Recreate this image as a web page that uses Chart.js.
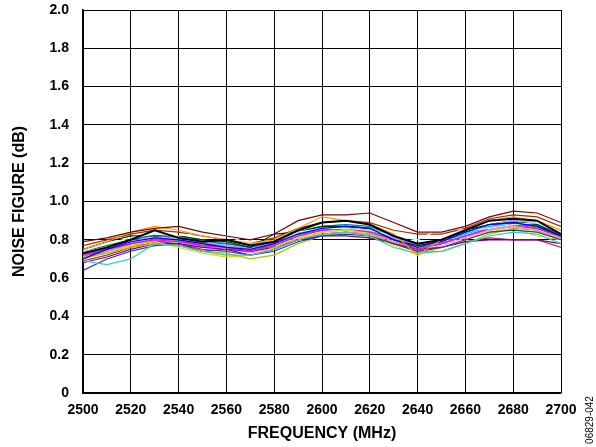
<!DOCTYPE html>
<html>
<head>
<meta charset="utf-8">
<script src="https://cdn.jsdelivr.net/npm/chart.js@4.4.1/dist/chart.umd.min.js"></script>
<style>
  html, body { margin: 0; padding: 0; background: #fff; }
  #wrap { width: 596px; height: 447px; position: relative; }
</style>
</head>
<body>
<div id="wrap"><canvas id="nfChart" width="596" height="447"></canvas></div>
<script>
// frequency points, MHz
const freqMHz = [2500, 2510, 2520, 2530, 2540, 2550, 2560, 2570, 2580, 2590, 2600,
                 2610, 2620, 2630, 2640, 2650, 2660, 2670, 2680, 2690, 2700];

// noise figure curves (dB)
const nfBlack    = [0.73,0.76,0.80,0.85,0.81,0.79,0.80,0.77,0.79,0.85,0.89,0.90,0.88,0.82,0.78,0.80,0.85,0.90,0.91,0.90,0.83];
const nfDarkRed  = [0.79,0.81,0.84,0.86,0.87,0.84,0.82,0.80,0.83,0.90,0.93,0.93,0.94,0.89,0.84,0.84,0.87,0.92,0.95,0.94,0.89];
const nfOrange   = [0.75,0.79,0.84,0.87,0.85,0.82,0.80,0.78,0.80,0.86,0.92,0.90,0.88,0.83,0.72,0.80,0.85,0.90,0.92,0.90,0.85];
const nfBlue     = [0.70,0.75,0.79,0.81,0.80,0.78,0.76,0.75,0.78,0.83,0.86,0.87,0.86,0.80,0.77,0.79,0.84,0.88,0.89,0.87,0.82];
const nfCyan     = [0.69,0.67,0.70,0.78,0.77,0.74,0.72,0.72,0.75,0.80,0.83,0.84,0.82,0.76,0.73,0.74,0.78,0.82,0.84,0.83,0.78];
const nfPaleCyan = [0.74,0.78,0.81,0.83,0.82,0.84,0.82,0.78,0.79,0.84,0.86,0.86,0.85,0.82,0.80,0.86,0.85,0.86,0.88,0.89,0.84];
const nfNavy     = [0.64,0.70,0.74,0.77,0.78,0.74,0.75,0.72,0.74,0.79,0.82,0.83,0.82,0.78,0.74,0.76,0.80,0.84,0.85,0.84,0.80];
const nfDkGreen  = [0.75,0.79,0.82,0.82,0.82,0.80,0.79,0.76,0.83,0.84,0.87,0.87,0.86,0.80,0.76,0.80,0.85,0.88,0.89,0.88,0.82];
const nfLime     = [0.71,0.73,0.76,0.78,0.77,0.74,0.73,0.70,0.72,0.78,0.82,0.84,0.83,0.78,0.74,0.74,0.78,0.83,0.86,0.85,0.80];
const nfYellow   = [0.70,0.73,0.77,0.79,0.76,0.73,0.71,0.72,0.76,0.81,0.84,0.85,0.83,0.77,0.72,0.76,0.80,0.84,0.86,0.82,0.80];
const nfMagenta  = [0.72,0.75,0.78,0.80,0.79,0.77,0.76,0.74,0.77,0.82,0.85,0.86,0.84,0.80,0.75,0.78,0.82,0.86,0.88,0.86,0.82];
const nfPurple   = [0.68,0.71,0.75,0.78,0.78,0.76,0.75,0.74,0.76,0.80,0.82,0.82,0.81,0.78,0.75,0.76,0.79,0.80,0.80,0.80,0.78];
const nfPink     = [0.71,0.74,0.77,0.80,0.79,0.76,0.76,0.73,0.76,0.81,0.84,0.85,0.84,0.79,0.74,0.77,0.81,0.85,0.87,0.85,0.81];
const nfLavender = [0.73,0.76,0.79,0.82,0.81,0.79,0.77,0.75,0.78,0.83,0.86,0.87,0.86,0.81,0.77,0.80,0.84,0.88,0.90,0.89,0.84];
const nfTeal     = [0.74,0.77,0.80,0.82,0.81,0.79,0.78,0.76,0.79,0.84,0.87,0.88,0.87,0.82,0.78,0.80,0.84,0.88,0.90,0.88,0.83];
const nfSeaGreen = [0.72,0.75,0.78,0.80,0.80,0.78,0.77,0.75,0.78,0.83,0.85,0.86,0.85,0.80,0.76,0.78,0.82,0.86,0.88,0.87,0.81];
const nfOlive    = [0.70,0.74,0.77,0.79,0.79,0.77,0.76,0.74,0.77,0.82,0.85,0.86,0.84,0.79,0.75,0.78,0.82,0.85,0.87,0.86,0.81];
const nfSky      = [0.72,0.76,0.80,0.83,0.82,0.80,0.78,0.76,0.79,0.85,0.87,0.88,0.86,0.81,0.77,0.79,0.83,0.87,0.89,0.87,0.81];
const nfLtBlue   = [0.73,0.75,0.78,0.81,0.80,0.78,0.77,0.75,0.78,0.82,0.85,0.86,0.85,0.81,0.77,0.79,0.83,0.87,0.88,0.86,0.82];
const nfBrown    = [0.77,0.80,0.83,0.85,0.84,0.82,0.80,0.78,0.81,0.86,0.89,0.90,0.89,0.85,0.83,0.83,0.86,0.91,0.93,0.92,0.87];
const nfPlum     = [0.69,0.72,0.76,0.79,0.78,0.75,0.74,0.72,0.75,0.80,0.83,0.84,0.83,0.78,0.74,0.76,0.79,0.81,0.80,0.80,0.76];
const nfPeach    = [0.72,0.76,0.79,0.81,0.80,0.78,0.77,0.76,0.78,0.82,0.85,0.86,0.85,0.80,0.76,0.78,0.82,0.85,0.87,0.86,0.81];
const nfGray     = [0.71,0.74,0.78,0.80,0.79,0.77,0.76,0.74,0.77,0.82,0.85,0.86,0.84,0.80,0.76,0.78,0.82,0.86,0.87,0.85,0.80];
const nfGreen    = [0.73,0.76,0.79,0.81,0.80,0.78,0.78,0.76,0.79,0.84,0.86,0.87,0.86,0.81,0.77,0.79,0.84,0.88,0.90,0.88,0.82];
const nfDkBlue   = [0.71,0.75,0.78,0.81,0.80,0.77,0.76,0.74,0.78,0.83,0.86,0.87,0.86,0.80,0.76,0.79,0.84,0.88,0.89,0.87,0.81];

// first entry is drawn on top
const curves = [nfBlack, nfDarkRed, nfOrange, nfBlue, nfCyan, nfPaleCyan, nfNavy, nfDkGreen, nfLime,
                nfYellow, nfMagenta, nfPurple, nfPink, nfLavender, nfTeal, nfSeaGreen, nfOlive, nfSky,
                nfLtBlue, nfBrown, nfPlum, nfPeach, nfGray, nfGreen, nfDkBlue];
const curveColors = ['#000000', '#800000', '#FF9900', '#0000FF', '#33CCCC', '#CCFFFF', '#333399', '#003300', '#99CC00',
                     '#FFCC00', '#FF00FF', '#800080', '#FF99CC', '#CC99FF', '#008080', '#339966', '#808000', '#00CCFF',
                     '#99CCFF', '#993300', '#993366', '#FFCC99', '#969696', '#00B050', '#000080'];

const yTicks = [0, 0.2, 0.4, 0.6, 0.8, 1.0, 1.2, 1.4, 1.6, 1.8, 2.0];

const datasets = curves.map((vals, i) => ({
  data: vals.map((v, j) => ({ x: freqMHz[j], y: v })),
  borderColor: curveColors[i],
  borderWidth: i === 0 ? 2 : 1.2,
  pointRadius: 0,
  tension: 0,
  fill: false
}));

// figure code printed vertically in the lower right corner
const figCode = {
  id: 'figCode',
  afterDraw(chart) {
    const ctx = chart.ctx;
    ctx.save();
    ctx.translate(590, 420);
    ctx.rotate(-Math.PI / 2);
    ctx.font = '10px "Liberation Sans", Arial, sans-serif';
    ctx.fillStyle = '#000';
    ctx.textAlign = 'center';
    ctx.textBaseline = 'middle';
    ctx.fillText('06829-042', 0, 0);
    ctx.restore();
  }
};

const tickFont = { family: '"Liberation Sans", Arial, sans-serif', size: 14, weight: 'bold' };
const titleFont = { family: '"Liberation Sans", Arial, sans-serif', size: 16, weight: 'bold' };

new Chart(document.getElementById('nfChart').getContext('2d'), {
  type: 'line',
  data: { datasets: datasets },
  options: {
    responsive: false,
    animation: false,
    layout: { padding: { left: 0, right: 35, top: 0, bottom: 0 } },
    plugins: { legend: { display: false }, tooltip: { enabled: false } },
    scales: {
      x: {
        type: 'linear',
        min: 2500,
        max: 2700,
        afterFit: s => { s.height = 54; },
        ticks: { stepSize: 20, color: '#000', font: tickFont, padding: 9, maxRotation: 0,
                 callback: v => String(v) },
        grid: { color: '#000', lineWidth: 1, drawTicks: false },
        border: { color: '#000', width: 1.5 },
        title: { display: true, text: 'FREQUENCY (MHz)', color: '#000', font: titleFont,
                 padding: { top: 0, bottom: 4 } }
      },
      y: {
        min: 0,
        max: 2,
        afterFit: s => { s.width = 83; s.paddingTop = 10; s.paddingBottom = 0; },
        afterBuildTicks: s => { s.ticks = yTicks.map(v => ({ value: v })); },
        ticks: { color: '#000', font: tickFont, padding: 14,
                 callback: v => (v === 0 ? '0' : v.toFixed(1)) },
        grid: { color: '#000', lineWidth: 1, drawTicks: false },
        border: { color: '#000', width: 1.5 },
        title: { display: true, text: 'NOISE FIGURE (dB)', color: '#000', font: titleFont,
                 padding: { top: 10, bottom: 0 } }
      }
    }
  },
  plugins: [figCode]
});
</script>
</body>
</html>
